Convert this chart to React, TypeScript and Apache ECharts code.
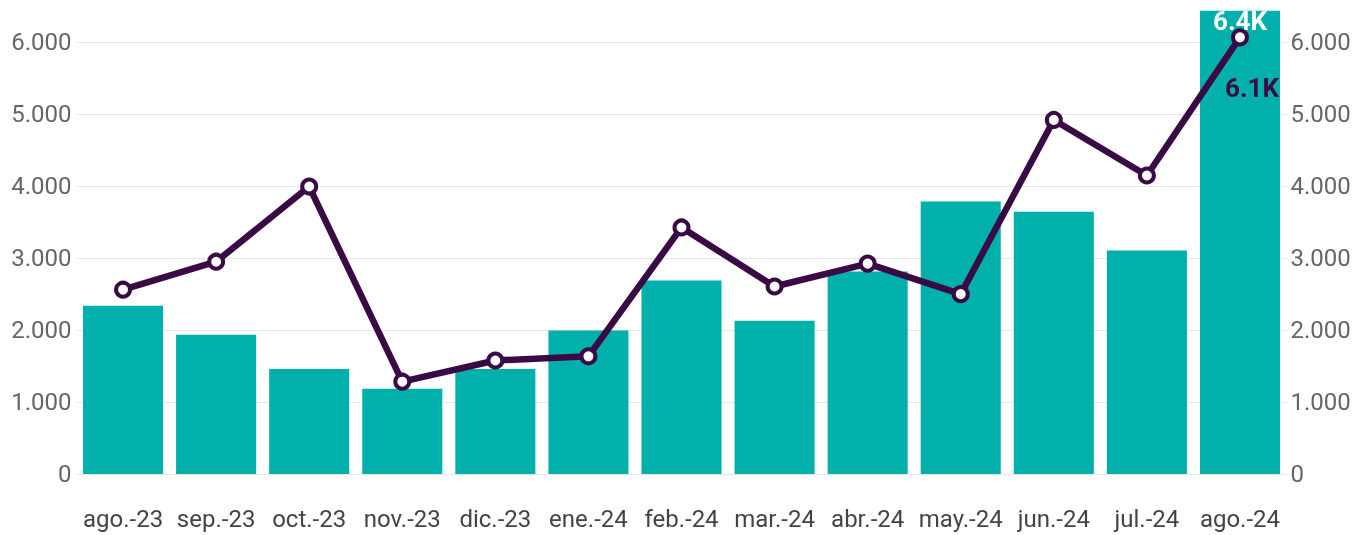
import React, { useEffect, useRef } from "react";
import * as echarts from "echarts";

const categories = [
  "ago.-23", "sep.-23", "oct.-23", "nov.-23", "dic.-23", "ene.-24", "feb.-24",
  "mar.-24", "abr.-24", "may.-24", "jun.-24", "jul.-24", "ago.-24",
];
const barValues = [2340, 1935, 1460, 1185, 1460, 1995, 2690, 2130, 2815, 3787, 3645, 3108, 6440];
const lineValues = [2562, 2951, 3996, 1283, 1578, 1636, 3427, 2606, 2924, 2500, 4922, 4149, 6070];
const axisMax = 6450;

const fmtThousands = (v: number) => {
  if (v > 6000) return "";
  return v === 0 ? "0" : (v / 1000).toFixed(3);
};
const fmtK = (v: number) => (v / 1000).toFixed(1) + "K";

export default function App() {
  const ref = useRef<HTMLDivElement>(null);
  useEffect(() => {
    if (!ref.current) return;
    const chart = echarts.init(ref.current, null, { renderer: "svg" });
    const font = "Roboto, 'Noto Sans', sans-serif";
    const gridColors = ["#e6e6e6", "#e6e6e6", "#e6e6e6", "#e6e6e6", "#e6e6e6", "#e6e6e6", "#e6e6e6", "rgba(0,0,0,0)"];
    const yAxisBase = {
      type: "value",
      min: 0,
      max: axisMax,
      interval: 1000,
      axisLine: { show: false },
      axisTick: { show: false },
    };
    const last = categories.length - 1;
    chart.setOption({
      animation: false,
      grid: { left: 76.5, right: 72.5, top: 10, bottom: 61, containLabel: false },
      xAxis: {
        type: "category",
        data: categories,
        axisLine: { show: false },
        axisTick: { show: false },
        axisLabel: { color: "#444", fontSize: 24, fontFamily: font, margin: 33, interval: 0 },
      },
      yAxis: [
        {
          ...yAxisBase,
          position: "left",
          splitLine: { show: true, lineStyle: { color: gridColors, width: 1 } },
          axisLabel: {
            color: "#666",
            fontSize: 24,
            fontFamily: font,
            margin: 5,
            showMaxLabel: false,
            formatter: fmtThousands,
          },
        },
        {
          ...yAxisBase,
          position: "right",
          splitLine: { show: false },
          axisLabel: {
            color: "#666",
            fontSize: 24,
            fontFamily: font,
            margin: 4,
            showMaxLabel: false,
            formatter: fmtThousands,
          },
        },
      ],
      series: [
        {
          type: "bar",
          yAxisIndex: 0,
          barCategoryGap: "14%",
          itemStyle: { color: "#01B0AA" },
          data: barValues.map((v, i) =>
            i === last
              ? {
                  value: v,
                  label: {
                    show: true,
                    position: "insideTop",
                    distance: 0,
                    offset: [0, -3],
                    color: "#ffffff",
                    fontWeight: "bold",
                    fontSize: 26,
                    fontFamily: font,
                    formatter: (p: any) => fmtK(p.value),
                  },
                }
              : v
          ),
        },
        {
          type: "line",
          yAxisIndex: 1,
          symbol: "circle",
          symbolSize: 14,
          lineStyle: { color: "#3A0A44", width: 6.5 },
          itemStyle: { color: "#ffffff", borderColor: "#3A0A44", borderWidth: 4 },
          z: 5,
          data: lineValues.map((v, i) =>
            i === last
              ? {
                  value: v,
                  label: {
                    show: true,
                    position: "bottom",
                    distance: 0,
                    offset: [12, 29],
                    color: "#3A0A44",
                    fontWeight: "bold",
                    fontSize: 26,
                    fontFamily: font,
                    formatter: (p: any) => fmtK(p.value),
                  },
                }
              : v
          ),
        },
      ],
    });
    return () => chart.dispose();
  }, []);
  return (
    <div
      ref={ref}
      style={{ position: "fixed", left: 0, top: 0, width: 1359, height: 535 }}
    />
  );
}
